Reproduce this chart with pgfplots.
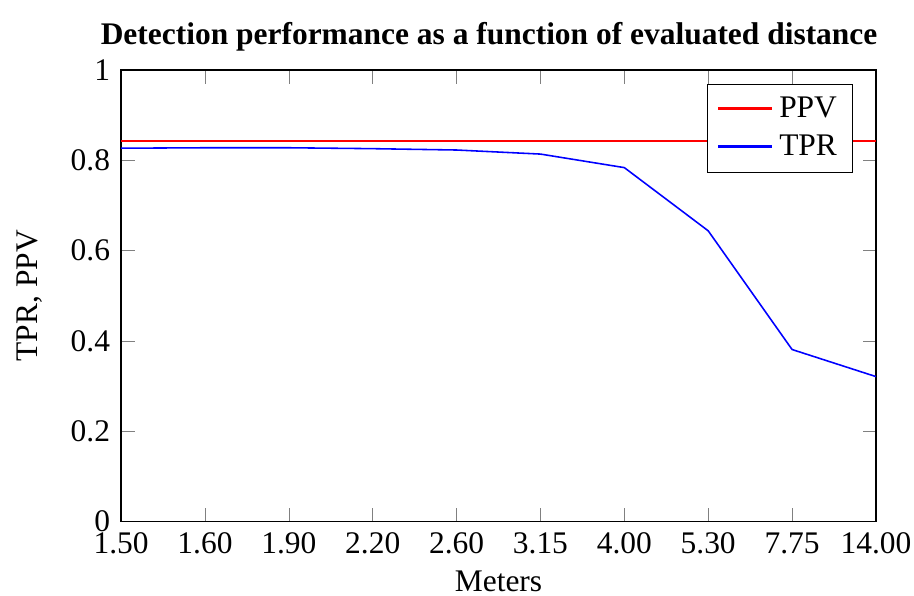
\documentclass[border=0pt]{standalone}
\usepackage{fontspec}
\setmainfont{Liberation Serif}
\usepackage{pgfplots}
\pgfplotsset{compat=1.18}
\definecolor{pred}{RGB}{255,0,0}
\definecolor{pblue}{RGB}{0,0,255}
\begin{document}
\begin{tikzpicture}
\begin{axis}[
  scale only axis,
  width=240pt, height=143.5pt,
  title={\textbf{Detection performance as a function of evaluated distance}},
  title style={yshift=-3.5pt, xshift=-3pt},
  xlabel={Meters}, ylabel={TPR, PPV},
  xlabel style={yshift=1.5pt},
  ylabel style={yshift=2pt},
  xmin=0, xmax=9, ymin=0, ymax=1,
  xtick={0,...,9},
  xticklabels={1.50,1.60,1.90,2.20,2.60,3.15,4.00,5.30,7.75,14.00},
  ytick={0,0.2,0.4,0.6,0.8,1},
  yticklabel style={/pgf/number format/assume math mode=true},
  legend pos=north east,
  legend cell align=left,
  legend image code/.code={\draw[#1, line width=0.75pt] (0cm,0.3pt) -- (0.6cm,0.3pt);},
]
\addplot[pred, line width=0.6pt, mark=none] coordinates {(0,0.842) (9,0.842)};
\addlegendentry{PPV}
\addplot[pblue, line width=0.5pt, mark=none] coordinates {
(0,0.827) (1,0.828) (2,0.828) (3,0.826) (4,0.823) (5,0.814) (6,0.784) (7,0.644) (8,0.381) (9,0.321)};
\addlegendentry{TPR}
\end{axis}
\pgfresetboundingbox
\path[use as bounding box] ([shift={(-38.5pt,-23.5pt)}]current axis.south west) rectangle ([shift={(12.1pt,22.3pt)}]current axis.north east);
\end{tikzpicture}
\end{document}
